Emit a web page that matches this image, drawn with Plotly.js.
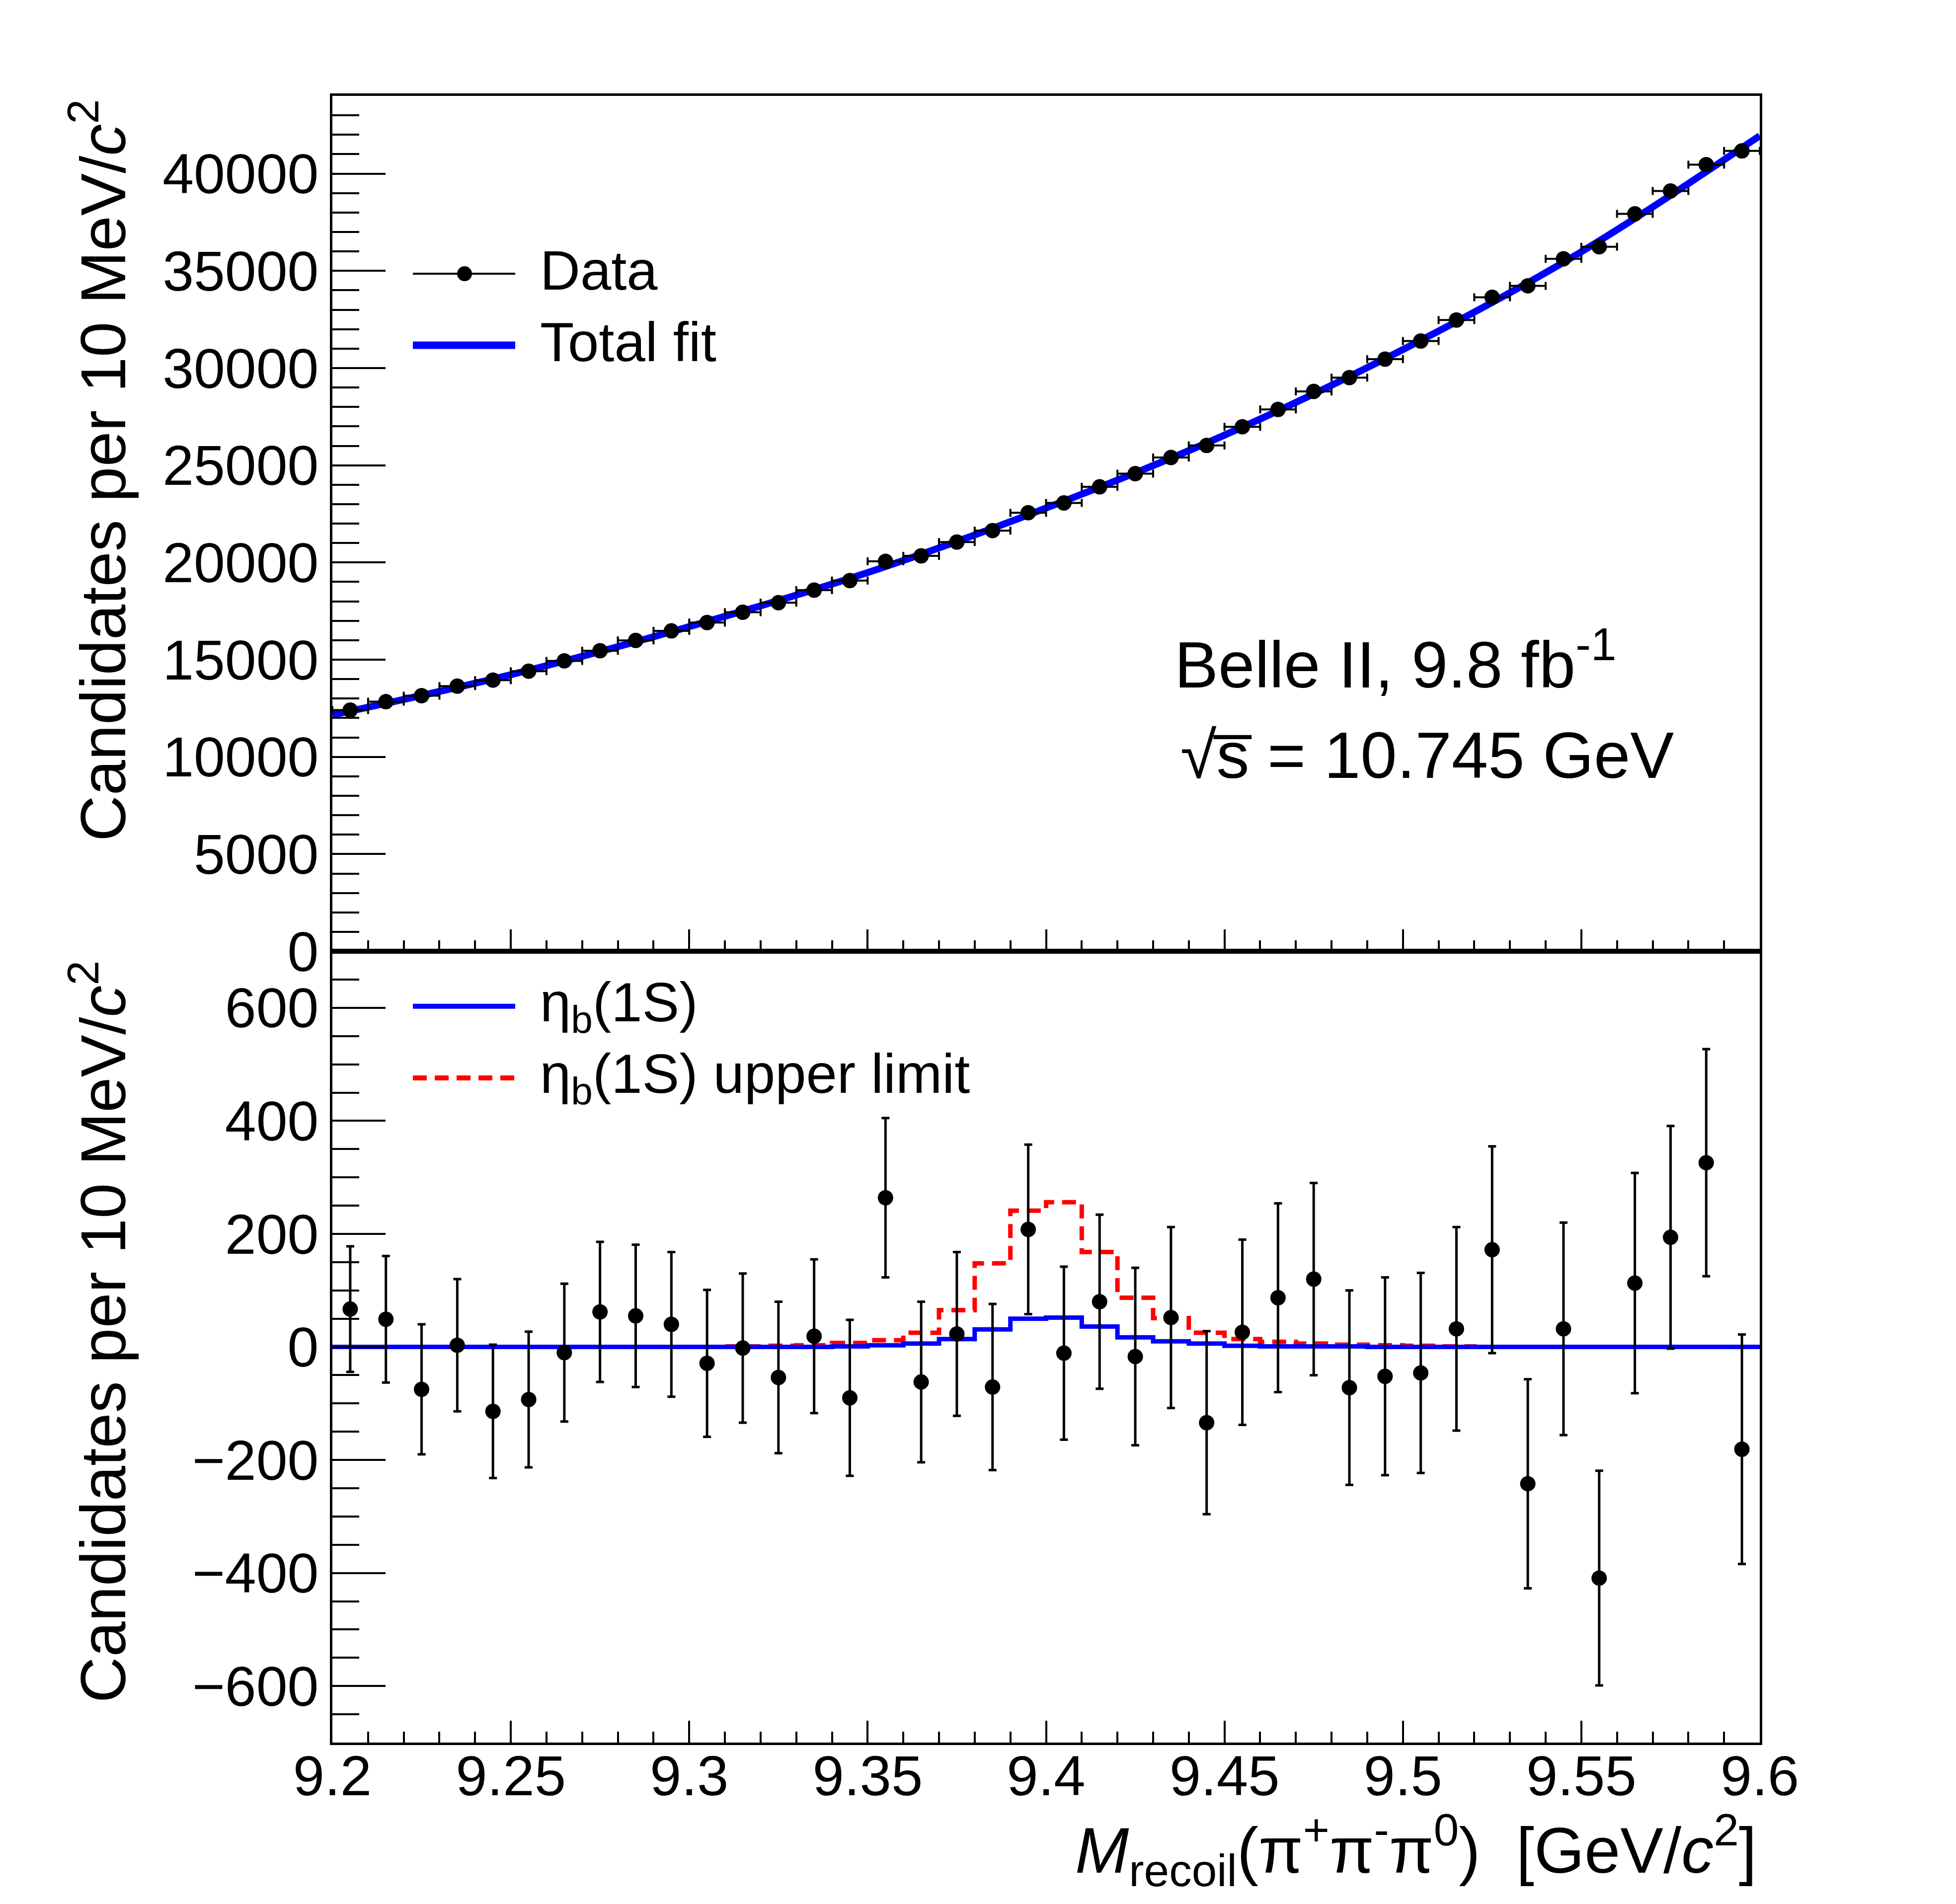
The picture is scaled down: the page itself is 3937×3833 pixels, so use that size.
<!DOCTYPE html>
<html>
<head>
<meta charset="utf-8">
<script src="https://cdn.plot.ly/plotly-3.0.1.min.js"></script>
<style>
  html, body { margin: 0; padding: 0; background: #fff; }
</style>
</head>
<body>
<div id="plot"></div>
<script>
// bin centres, 10 MeV bins
var binCenters = [9.205, 9.215, 9.225, 9.235, 9.245, 9.255, 9.265, 9.275, 9.285, 9.295,
                  9.305, 9.315, 9.325, 9.335, 9.345, 9.355, 9.365, 9.375, 9.385, 9.395,
                  9.405, 9.415, 9.425, 9.435, 9.445, 9.455, 9.465, 9.475, 9.485, 9.495,
                  9.505, 9.515, 9.525, 9.535, 9.545, 9.555, 9.565, 9.575, 9.585, 9.595];

// upper panel: candidates per bin
var dataCounts = [12410, 12840, 13150, 13640, 13950, 14410, 14940, 15460, 15990, 16480,
                  16910, 17440, 17930, 18580, 19070, 20060, 20340, 21050, 21640, 22560,
                  23060, 23890, 24570, 25400, 26020, 26980, 27870, 28800, 29510, 30460,
                  31390, 32470, 33640, 34230, 35620, 36240, 37930, 39110, 40460, 41170];

// statistical errors
var dataErrors = [111, 112, 115, 117, 118, 120, 122, 124, 126, 128,
                  130, 132, 134, 136, 138, 141, 142, 145, 147, 150,
                  153, 154, 157, 160, 162, 164, 167, 170, 172, 175,
                  177, 180, 183, 185, 188, 190, 195, 197, 201, 203];

// total fit curve
var fitX = [9.2, 9.25, 9.3, 9.35, 9.4, 9.45, 9.5, 9.55, 9.6];
var fitY = [12160, 14230, 16700, 19480, 22800, 26550, 30950, 35980, 41950];

// lower panel: background-subtracted data
var residuals = [67, 49, -75, 3, -114, -93, -10, 62, 55, 40,
                 -29, -2, -54, 19, -90, 264, -62, 23, -71, 208,
                 -11, 80, -17, 52, -134, 26, 87, 120, -72, -52,
                 -46, 32, 172, -242, 32, -409, 113, 194, 326, -181];

// eta_b(1S) fitted signal
var etaB = [0, 0, 0, 0, 0, 0, 0, 0, 0, 0,
            0, 0, 0, 0, 1, 3, 6, 14, 31, 50,
            52, 36, 17, 10, 6, 2, 1, 1, 1, 0,
            0, 0, 0, 0, 0, 0, 0, 0, 0, 0];

// eta_b(1S) upper limit
var etaBUL = [0, 0, 0, 0, 0, 0, 0, 0, 0, 0,
              0, 1, 2, 3, 7, 12, 25, 65, 148, 241,
              256, 168, 87, 51, 25, 14, 9, 6, 4, 3,
              2, 1, 0, 0, 0, 0, 0, 0, 0, 0];

var FONT = "Liberation Sans, Arial, Helvetica, sans-serif";

// histogram outline from bin centres
var half = (binCenters[1] - binCenters[0]) / 2;
function stepX() {
    var xs = binCenters.map(function (c) { return c - half; });
    xs.push(binCenters[binCenters.length - 1] + half);
    return xs;
}
function stepY(vals) {
    var ys = vals.slice();
    ys.push(vals[vals.length - 1]);
    return ys;
}

var traces = [
    {   // total fit
        x: fitX, y: fitY, xaxis: 'x2', yaxis: 'y',
        mode: 'lines', line: {color: '#0000ff', width: 14, shape: 'spline'},
        hoverinfo: 'skip'
    },
    {   // data, upper
        x: binCenters, y: dataCounts, xaxis: 'x2', yaxis: 'y',
        mode: 'markers', marker: {color: 'black', size: 31},
        error_x: {type: 'constant', value: half, color: 'black', thickness: 4, width: 8},
        error_y: {type: 'data', array: dataErrors, color: 'black', thickness: 4, width: 8}
    },
    {   // upper limit
        x: stepX(), y: stepY(etaBUL), xaxis: 'x', yaxis: 'y2',
        mode: 'lines', line: {color: '#ff0000', width: 9, dash: '28px,16px', shape: 'hv'}
    },
    {   // eta_b(1S)
        x: stepX(), y: stepY(etaB), xaxis: 'x', yaxis: 'y2',
        mode: 'lines', line: {color: '#0000ff', width: 9, shape: 'hv'}
    },
    {   // data, lower
        x: binCenters, y: residuals, xaxis: 'x', yaxis: 'y2',
        mode: 'markers', marker: {color: 'black', size: 31},
        error_y: {type: 'data', array: dataErrors, color: 'black', thickness: 5, width: 8}
    }
];

var xCommon = {
    range: [9.2, 9.6], tick0: 9.2, dtick: 0.05,
    ticks: 'inside', ticklen: 44, tickwidth: 4, tickcolor: 'black',
    minor: {dtick: 0.01, ticks: 'inside', ticklen: 22, tickwidth: 4, tickcolor: 'black'},
    showline: true, mirror: true, linewidth: 5, linecolor: 'black',
    showgrid: false, zeroline: false,
    tickfont: {family: FONT, size: 114, color: 'black'}
};

var split = 0.4805;

var layout = {
    width: 3937, height: 3833,
    margin: {l: 669, r: 395, t: 193, b: 325},
    paper_bgcolor: 'white', plot_bgcolor: 'white',
    showlegend: false,
    font: {family: FONT, color: 'black'},
    xaxis: Object.assign({}, xCommon, {anchor: 'y2', domain: [0, 1], ticklabelstandoff: -36}),
    xaxis2: Object.assign({}, xCommon, {anchor: 'y', domain: [0, 1], matches: 'x', showticklabels: false}),
    yaxis: {
        domain: [split, 1], range: [0, 44000], tick0: 0, dtick: 5000, tickformat: 'd',
        ticks: 'inside', ticklen: 107, tickwidth: 4, tickcolor: 'black',
        minor: {dtick: 1000, ticks: 'inside', ticklen: 54, tickwidth: 4, tickcolor: 'black'},
        showline: true, mirror: true, linewidth: 5, linecolor: 'black',
        showgrid: false, zeroline: false,
        tickfont: {family: FONT, size: 113, color: 'black'}
    },
    yaxis2: {
        domain: [0, split], range: [-700, 700], tick0: 0, dtick: 200,
        ticks: 'inside', ticklen: 107, tickwidth: 4, tickcolor: 'black',
        minor: {dtick: 50, ticks: 'inside', ticklen: 54, tickwidth: 4, tickcolor: 'black'},
        showline: true, mirror: true, linewidth: 5, linecolor: 'black',
        showgrid: false, zeroline: false,
        tickfont: {family: FONT, size: 113, color: 'black'}
    },
    shapes: [
        // legend samples, upper panel
        {type: 'line', xref: 'paper', yref: 'paper', x0: 0.0564, x1: 0.1281, y0: 0.892, y1: 0.892,
         line: {color: 'black', width: 4}},
        {type: 'circle', xref: 'paper', yref: 'paper', xsizemode: 'pixel', ysizemode: 'pixel',
         xanchor: 0.0926, yanchor: 0.892, x0: -15, x1: 15, y0: -15, y1: 15,
         fillcolor: 'black', line: {width: 0}},
        {type: 'line', xref: 'paper', yref: 'paper', x0: 0.0564, x1: 0.1281, y0: 0.8486, y1: 0.8486,
         line: {color: '#0000ff', width: 15}},
        // legend samples, lower panel
        {type: 'line', xref: 'paper', yref: 'paper', x0: 0.0564, x1: 0.1281, y0: 0.4471, y1: 0.4471,
         line: {color: '#0000ff', width: 10}},
        {type: 'line', xref: 'paper', yref: 'paper', x0: 0.0564, x1: 0.1281, y0: 0.4036, y1: 0.4036,
         line: {color: '#ff0000', width: 10, dash: '28px,16px'}}
    ],
    annotations: [
        {xref: 'paper', yref: 'paper', x: 0.1448, y: 0.894, xanchor: 'left', yanchor: 'middle',
         text: 'Data', showarrow: false, font: {size: 112}},
        {xref: 'paper', yref: 'paper', x: 0.1448, y: 0.8506, xanchor: 'left', yanchor: 'middle',
         text: 'Total fit', showarrow: false, font: {size: 112}},
        {xref: 'paper', yref: 'paper', x: 0.1448, y: 0.4471, xanchor: 'left', yanchor: 'middle',
         text: 'η<sub>b</sub>(1S)', showarrow: false, font: {size: 112}},
        {xref: 'paper', yref: 'paper', x: 0.1448, y: 0.4036, xanchor: 'left', yanchor: 'middle',
         text: 'η<sub>b</sub>(1S) upper limit', showarrow: false, font: {size: 112}},
        {xref: 'paper', yref: 'paper', x: 0.5892, y: 0.6575, xanchor: 'left', yanchor: 'middle',
         text: 'Belle II, 9.8 fb<sup>-1</sup>', showarrow: false, font: {size: 132}},
        {xref: 'paper', yref: 'paper', x: 0.5936, y: 0.5996, xanchor: 'left', yanchor: 'middle',
         text: '√s̅ = 10.745 GeV', showarrow: false, font: {size: 132}},
        {xref: 'paper', yref: 'paper', x: -0.164, y: 0.9985, xanchor: 'center', yanchor: 'top',
         textangle: -90, text: 'Candidates per 10 MeV/<i>c</i><sup>2</sup>', showarrow: false,
         font: {size: 128}},
        {xref: 'paper', yref: 'paper', x: -0.164, y: 0.4754, xanchor: 'center', yanchor: 'top',
         textangle: -90, text: 'Candidates per 10 MeV/<i>c</i><sup>2</sup>', showarrow: false,
         font: {size: 128}},
        {xref: 'paper', yref: 'paper', x: 0.9986, y: -0.0654, xanchor: 'right', yanchor: 'middle',
         text: '<i>M</i><sub>recoil</sub>(π<sup>+</sup>π<sup>-</sup>π<sup>0</sup>)  [GeV/<i>c</i><sup>2</sup>]',
         showarrow: false, font: {size: 130}}
    ]
};

Plotly.newPlot('plot', traces, layout, {staticPlot: true, displayModeBar: false});
</script>
</body>
</html>
